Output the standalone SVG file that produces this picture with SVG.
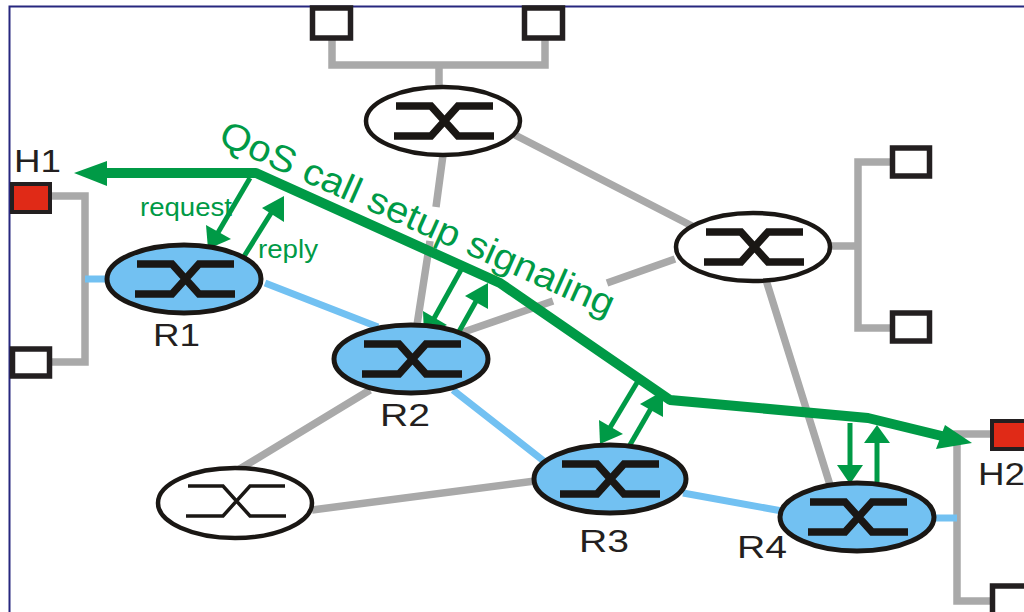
<svg xmlns="http://www.w3.org/2000/svg" xmlns:xlink="http://www.w3.org/1999/xlink" width="1024" height="612" viewBox="0 0 1024 612">
<style>
text{font-family:"Liberation Sans",Arial,sans-serif}
.lab{font-size:31px;fill:#231f20}
.g{font-size:25px;fill:#009a46}
.gray{fill:none;stroke:#a9a9a9;stroke-width:7.500}
.blue{fill:none;stroke:#72c1f2;stroke-width:7}
.sig{fill:none;stroke:#009a46;stroke-width:10;stroke-linejoin:round}
.ar{fill:none;stroke:#009a46;stroke-width:5}
.ah{fill:#009a46}
.box{fill:#fff;stroke:#231f20;stroke-width:5.500}
.red{fill:#e02a17;stroke:#231f20;stroke-width:4}
.rt{fill:#72c1f2;stroke:#1a1714;stroke-width:5}
.wt{fill:#fff;stroke:#1a1714;stroke-width:4.500}
.sw{fill:none;stroke:#1a1714;stroke-width:7.500;stroke-linejoin:miter}
.sw2{fill:none;stroke:#1a1714;stroke-width:3.500}
</style>
<defs>
<path id="swg" d="M-48-15H-13L14 15H50M-50 15H-13L14-15H49"/>
</defs>
<rect width="1024" height="612" fill="#fff"/>
<path d="M9.500 612V6.500H1024" fill="none" stroke="#27277f" stroke-width="2"/>
<g id="connectors">
<path class="gray" d="M50 196H85V362H50"/>
<path class="gray" d="M332 38V65H545V38M439 65V88"/>
<path class="gray" d="M890 162H858V328H890M830 246H858"/>
<path class="gray" d="M990 434H957V601H990"/>
<path class="gray" d="M443 155L436 207M430 241L417 325M515 135L692 226M455 335L553 301M607 283L675 259M370 390L238 470M312 510L535 481M766 280L830 485"/>
<path class="blue" d="M85 279H110M265 283L378 327M453 390L545 462M683 493L782 511M930 518H957"/>
<path class="sig" d="M100 173H256L500 283L670 400L868 418L950 438"/>
<path class="ah" d="M74 173L107 161V186Z"/>
<path class="ah" d="M972 443L936 449L945 425Z"/>
<path class="ar" d="M250 178L216 236"/><path class="ah" d="M208 249L206 225L231 239Z"/>
<path class="ar" d="M243 258L273 210"/><path class="ah" d="M284 196L284 222L262 208Z"/>
<path class="ar" d="M462 268L432 322"/><path class="ah" d="M424 335L423 311L447 325Z"/>
<path class="ar" d="M452 344L479 296"/><path class="ah" d="M488 283L488 309L465 296Z"/>
<path class="ar" d="M638 381L608 431"/><path class="ah" d="M600 444L599 420L623 434Z"/>
<path class="ar" d="M627 450L653 405"/><path class="ah" d="M663 391L663 417L640 404Z"/>
<path class="ar" d="M850 423V470"/><path class="ah" d="M850 484L837 465H863Z"/>
<path class="ar" d="M877 482V438"/><path class="ah" d="M877 425L890 443H864Z"/>
</g>
<g id="H1"><rect class="red" x="12" y="184" width="38" height="28"/><text class="lab" x="14" y="172" textLength="47" lengthAdjust="spacingAndGlyphs">H1</text></g>
<g id="h1b"><rect class="box" x="12.500" y="349" width="37" height="27"/></g>
<g id="ht1"><rect class="box" x="312.500" y="8" width="38" height="30"/></g>
<g id="ht2"><rect class="box" x="524.500" y="8" width="38" height="30"/></g>
<g id="hr1"><rect class="box" x="892.500" y="148" width="37" height="28"/></g>
<g id="hr2"><rect class="box" x="892.500" y="313" width="37" height="28"/></g>
<g id="H2"><rect class="red" x="992" y="421" width="40" height="28"/><text class="lab" x="978" y="485" textLength="47" lengthAdjust="spacingAndGlyphs">H2</text></g>
<g id="h2b"><rect class="box" x="992.500" y="586" width="40" height="30"/></g>
<g id="R1"><ellipse class="rt" cx="184" cy="279" rx="77" ry="34"/><use xlink:href="#swg" href="#swg" class="sw" x="185" y="279"/><text class="lab" x="153" y="346" textLength="47" lengthAdjust="spacingAndGlyphs">R1</text></g>
<g id="R2"><ellipse class="rt" cx="411" cy="359" rx="77" ry="34"/><use xlink:href="#swg" href="#swg" class="sw" x="412" y="359"/><text class="lab" x="380" y="426" textLength="50" lengthAdjust="spacingAndGlyphs">R2</text></g>
<g id="R3"><ellipse class="rt" cx="610" cy="479" rx="76" ry="34"/><use xlink:href="#swg" href="#swg" class="sw" x="610" y="479"/><text class="lab" x="579" y="552" textLength="50" lengthAdjust="spacingAndGlyphs">R3</text></g>
<g id="R4"><ellipse class="rt" cx="857" cy="517" rx="77" ry="34"/><use xlink:href="#swg" href="#swg" class="sw" x="858" y="517"/><text class="lab" x="737" y="558" textLength="50" lengthAdjust="spacingAndGlyphs">R4</text></g>
<g id="S1"><ellipse class="wt" cx="443" cy="121" rx="77" ry="34"/><use xlink:href="#swg" href="#swg" class="sw" x="444" y="121"/></g>
<g id="S2"><ellipse class="wt" cx="753" cy="247" rx="77" ry="34"/><use xlink:href="#swg" href="#swg" class="sw" x="754" y="247"/></g>
<g id="S3"><ellipse class="wt" cx="235" cy="503" rx="77" ry="35"/><use xlink:href="#swg" href="#swg" class="sw2" x="236" y="501"/></g>
<text class="g" x="140" y="216" textLength="92" lengthAdjust="spacingAndGlyphs">request</text>
<text class="g" x="258" y="258" textLength="60" lengthAdjust="spacingAndGlyphs">reply</text>
<text x="217" y="143" transform="rotate(24 217 143)" font-size="37" fill="#009a46" textLength="428" lengthAdjust="spacingAndGlyphs">QoS call setup signaling</text>
</svg>
